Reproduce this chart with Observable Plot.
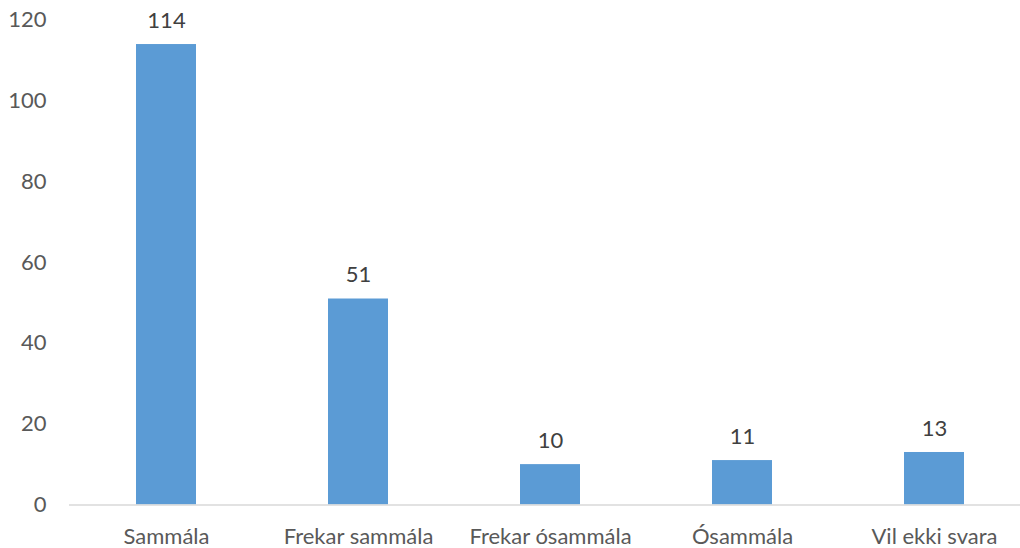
<!DOCTYPE html>
<html>
<head>
<meta charset="utf-8">
<script src="https://cdn.jsdelivr.net/npm/d3@7"></script>
<script src="https://cdn.jsdelivr.net/npm/@observablehq/plot@0.6"></script>
<style>
  html, body { margin: 0; padding: 0; background: #fff; }
</style>
</head>
<body>
<div id="chart"></div>
<script>
const categories = ["Sammála", "Frekar sammála", "Frekar ósammála", "Ósammála", "Vil ekki svara"];
const values = [114, 51, 10, 11, 13];
const yTicks = [0, 20, 40, 60, 80, 100, 120];

const data = categories.map((c, i) => ({category: c, value: values[i]}));

const chart = Plot.plot({
  width: 1020,
  height: 548,
  marginLeft: 69,
  marginRight: 0,
  marginTop: 19.8,
  marginBottom: 43.5,
  style: {fontFamily: "Lato, 'Open Sans', sans-serif", fontSize: "22px", color: "#595959", background: "#fff"},
  x: {domain: categories, range: [69, 1031], paddingInner: 0.69, paddingOuter: 0.345, label: null},
  y: {domain: [0, 120], label: null},
  marks: [
    Plot.barY(data, {x: "category", y: "value", fill: "#5B9BD5"}),
    Plot.ruleY([0], {stroke: "#D9D9D9", strokeWidth: 1.5}),
    Plot.text(data, {x: "category", y: "value", text: d => String(d.value), dy: -24, fill: "#404040", fontSize: 22}),
    Plot.axisX({tickSize: 0, tickPadding: 23, fontSize: 22}),
    Plot.axisY({ticks: yTicks, tickSize: 0, tickPadding: 23, fontSize: 22})
  ]
});
document.getElementById("chart").appendChild(chart);
</script>
</body>
</html>
